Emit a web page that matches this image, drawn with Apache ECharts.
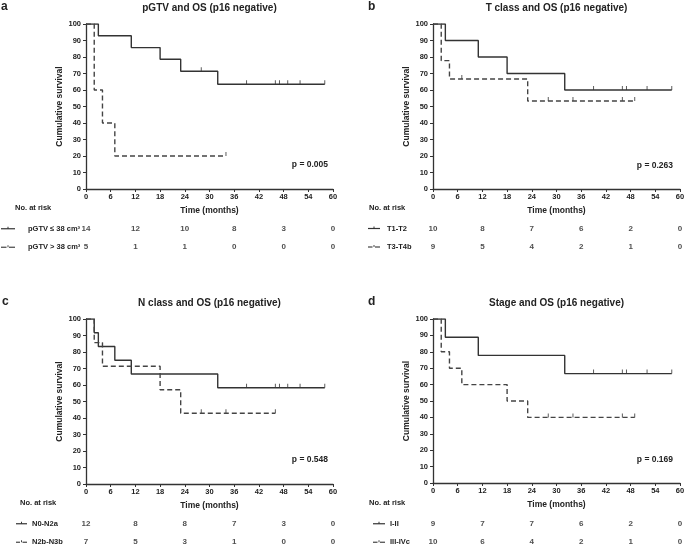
<!DOCTYPE html>
<html><head><meta charset="utf-8">
<script src="https://cdn.jsdelivr.net/npm/echarts@6/dist/echarts.min.js"></script>
<style>html,body{margin:0;padding:0;background:#fff}#c{width:685px;height:545px}</style>
</head><body><div id="c"></div>
<script>
// ---- data ----
const panelLetters = ['a', 'b', 'c', 'd'];
const panelTitles = ['pGTV and OS (p16 negative)', 'T class and OS (p16 negative)', 'N class and OS (p16 negative)', 'Stage and OS (p16 negative)'];
const pValues = ['p = 0.005', 'p = 0.263', 'p = 0.548', 'p = 0.169'];
const groupLabels = [['pGTV ≤ 38 cm³', 'pGTV > 38 cm³'], ['T1-T2', 'T3-T4b'], ['N0-N2a', 'N2b-N3b'], ['I-II', 'III-IVc']];
const riskTimes = [0, 12, 24, 36, 48, 60];

const riskA1 = [14, 12, 10, 8, 3, 0];
const riskA2 = [5, 1, 1, 0, 0, 0];
const riskB1 = [10, 8, 7, 6, 2, 0];
const riskB2 = [9, 5, 4, 2, 1, 0];
const riskC1 = [12, 8, 8, 7, 3, 0];
const riskC2 = [7, 5, 3, 1, 0, 0];
const riskD1 = [9, 7, 7, 6, 2, 0];
const riskD2 = [10, 6, 4, 2, 1, 0];

const curveA1 = [[0, 100], [3, 92.9], [11, 85.7], [18, 78.6], [23, 71.4], [32, 63.5], [58, 63.5]];
const censorA1 = [[28, 71.4], [39, 63.5], [46, 63.5], [47, 63.5], [49, 63.5], [52, 63.5], [58, 63.5]];
const curveA2 = [[0, 100], [2, 60], [4, 40], [7, 20], [34, 20]];
const censorA2 = [[34, 20]];

const curveB1 = [[0, 100], [3, 90], [11, 80], [18, 70], [32, 60], [58, 60]];
const censorB1 = [[39, 60], [46, 60], [47, 60], [52, 60], [58, 60]];
const curveB2 = [[0, 100], [2, 77.8], [4, 66.7], [23, 53.3], [49, 53.3]];
const censorB2 = [[7, 66.7], [28, 53.3], [34, 53.3], [46, 53.3], [49, 53.3]];

const curveC1 = [[0, 100], [2, 91.7], [3, 83.3], [7, 75], [11, 66.7], [32, 58.3], [58, 58.3]];
const censorC1 = [[39, 58.3], [46, 58.3], [47, 58.3], [49, 58.3], [52, 58.3], [58, 58.3]];
const curveC2 = [[0, 100], [2, 85.7], [4, 71.4], [18, 57.1], [23, 42.9], [46, 42.9]];
const censorC2 = [[28, 42.9], [34, 42.9], [46, 42.9]];

const curveD1 = [[0, 100], [3, 88.9], [11, 77.8], [32, 66.7], [58, 66.7]];
const censorD1 = [[39, 66.7], [46, 66.7], [47, 66.7], [52, 66.7], [58, 66.7]];
const curveD2 = [[0, 100], [2, 80], [4, 70], [7, 60], [18, 50], [23, 40], [49, 40]];
const censorD2 = [[28, 40], [34, 40], [46, 40], [49, 40]];

const curves = [[curveA1, curveA2], [curveB1, curveB2], [curveC1, curveC2], [curveD1, curveD2]];
const censors = [[censorA1, censorA2], [censorB1, censorB2], [censorC1, censorC2], [censorD1, censorD2]];
const risks = [[riskA1, riskA2], [riskB1, riskB2], [riskC1, riskC2], [riskD1, riskD2]];

// ---- layout ----
const ROWGAP = 18.5, PAD = 0.125;
const layout = [
  {left: 86, top: 24, w: 247, h: 165, row1: 228.75, letterX: 1, letterY: 1, narX: 15, narY: 208, mk: [1, 15], labMargin: 58, pX: 328, pY: 165},
  {left: 433, top: 24, w: 247, h: 165, row1: 228.5, letterX: 368, letterY: 1, narX: 369, narY: 208, mk: [368, 380], labMargin: 46, pX: 673, pY: 166},
  {left: 86, top: 319, w: 247, h: 165, row1: 523.75, letterX: 2, letterY: 296, narX: 20, narY: 503, mk: [16, 27], labMargin: 54, pX: 328, pY: 460},
  {left: 433, top: 319, w: 247, h: 164, row1: 523.75, letterX: 368, letterY: 296, narX: 369, narY: 503, mk: [373, 385], labMargin: 43, pX: 673, pY: 460}
];

const FONT = '"Liberation Sans", Arial, sans-serif';
const TXT = '#222';
const LINE = '#333';

const grids = [], xAxes = [], yAxes = [], series = [], titles = [], graphics = [];

layout.forEach((L, i) => {
  // main plot
  grids.push({left: L.left, top: L.top, width: L.w, height: L.h, outerBoundsMode: 'none', containLabel: false});
  const gi = grids.length - 1;
  xAxes.push({
    gridIndex: gi, type: 'value', min: 0, max: 60, interval: 6,
    name: 'Time (months)', nameLocation: 'middle', nameGap: 17,
    nameTextStyle: {fontFamily: FONT, fontWeight: 'bold', fontSize: 8.5, color: TXT},
    axisLine: {lineStyle: {color: LINE, width: 1.3}},
    axisTick: {length: 3, lineStyle: {color: LINE, width: 1}},
    axisLabel: {margin: 4, fontFamily: FONT, fontWeight: 'bold', fontSize: 7.5, color: TXT},
    splitLine: {show: false}
  });
  yAxes.push({
    gridIndex: gi, type: 'value', min: 0, max: 100, interval: 10,
    name: 'Cumulative survival', nameLocation: 'middle', nameGap: 15.5,
    nameTextStyle: {fontFamily: FONT, fontWeight: 'bold', fontSize: 8.5, color: TXT},
    axisLine: {show: true, lineStyle: {color: LINE, width: 1.3}},
    axisTick: {show: true, length: 3, lineStyle: {color: LINE, width: 1}},
    axisLabel: {margin: 5, fontFamily: FONT, fontWeight: 'bold', fontSize: 7.5, color: TXT},
    splitLine: {show: false}
  });
  const ax = xAxes.length - 1;
  curves[i].forEach((c, k) => {
    series.push({
      type: 'line', step: 'end', xAxisIndex: ax, yAxisIndex: ax, data: c,
      showSymbol: false, symbol: 'none', silent: true,
      lineStyle: {color: k === 0 ? '#333' : '#444', width: 1.4, type: k === 0 ? 'solid' : [5, 3]}
    });
    series.push({
      type: 'scatter', xAxisIndex: ax, yAxisIndex: ax, data: censors[i][k],
      symbol: 'rect', symbolSize: [1, 4], symbolOffset: [0, -2], silent: true,
      itemStyle: {color: '#333'}
    });
  });

  // risk table
  const rTop = L.row1 - PAD * ROWGAP;
  grids.push({left: L.left, top: rTop, width: L.w, height: ROWGAP * (1 + 2 * PAD), outerBoundsMode: 'none', containLabel: false});
  const rg = grids.length - 1;
  xAxes.push({gridIndex: rg, type: 'value', min: 0, max: 60, show: false});
  const labels = groupLabels[i];
  yAxes.push({
    gridIndex: rg, type: 'value', inverse: true, min: -PAD, max: 1 + PAD,
    axisLine: {show: false}, axisTick: {show: false}, splitLine: {show: false},
    axisLabel: {customValues: [0, 1], formatter: v => labels[Math.round(v)], align: 'left', margin: L.labMargin,
      fontFamily: FONT, fontWeight: 'bold', fontSize: 7.5, color: TXT}
  });
  const rax = xAxes.length - 1;
  const pts = [];
  risks[i].forEach((row, r) => row.forEach((v, j) => pts.push([riskTimes[j], r, v])));
  series.push({
    type: 'scatter', xAxisIndex: rax, yAxisIndex: rax, data: pts, symbolSize: 0, silent: true,
    label: {show: true, position: 'inside', formatter: p => String(p.value[2]),
      fontFamily: FONT, fontWeight: 'bold', fontSize: 8, color: TXT}
  });

  // titles
  titles.push({text: panelTitles[i], left: L.left + L.w / 2, top: L.top - 21, textAlign: 'center', padding: 0,
    textStyle: {fontFamily: FONT, fontWeight: 'bold', fontSize: 10, color: TXT}});
  titles.push({text: panelLetters[i], left: L.letterX, top: L.letterY, padding: 0,
    textStyle: {fontFamily: FONT, fontWeight: 'bold', fontSize: 12, color: TXT}});

  // annotations
  graphics.push({type: 'text', x: L.pX, y: L.pY, style: {text: pValues[i], textAlign: 'right', textVerticalAlign: 'middle',
    font: 'bold 8.5px ' + FONT, fill: TXT}});
  graphics.push({type: 'text', x: L.narX, y: L.narY, style: {text: 'No. at risk', textAlign: 'left', textVerticalAlign: 'middle',
    font: 'bold 7.5px ' + FONT, fill: TXT}});
  // legend markers
  const y1 = L.row1, y2 = L.row1 + ROWGAP;
  const mid = (L.mk[0] + L.mk[1]) / 2;
  graphics.push({type: 'line', shape: {x1: L.mk[0], y1: y1, x2: L.mk[1], y2: y1}, style: {stroke: '#333', lineWidth: 1.2}});
  graphics.push({type: 'line', shape: {x1: mid, y1: y1 - 2, x2: mid, y2: y1}, style: {stroke: '#333', lineWidth: 1}});
  graphics.push({type: 'line', shape: {x1: L.mk[0], y1: y2, x2: mid - 1.5, y2: y2}, style: {stroke: '#444', lineWidth: 1.2}});
  graphics.push({type: 'line', shape: {x1: mid + 1, y1: y2, x2: L.mk[1], y2: y2}, style: {stroke: '#444', lineWidth: 1.2}});
  graphics.push({type: 'line', shape: {x1: mid, y1: y2 - 2, x2: mid, y2: y2}, style: {stroke: '#444', lineWidth: 1}});
});

const chart = echarts.init(document.getElementById('c'), null, {renderer: 'canvas'});
chart.setOption({
  animation: false,
  backgroundColor: '#fff',
  title: titles,
  grid: grids,
  xAxis: xAxes,
  yAxis: yAxes,
  series: series,
  graphic: graphics
});
</script>
</body></html>
